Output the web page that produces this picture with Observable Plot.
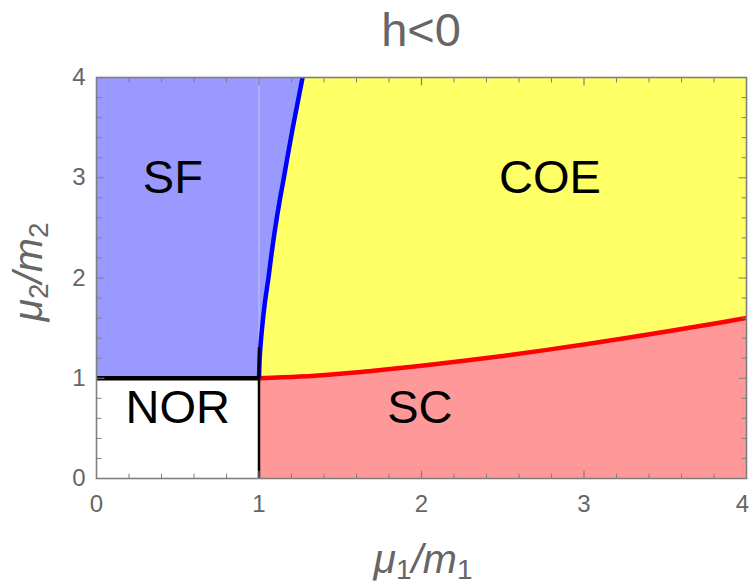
<!DOCTYPE html>
<html>
<head>
<meta charset="utf-8">
<script src="https://cdn.jsdelivr.net/npm/d3@7"></script>
<script src="https://cdn.jsdelivr.net/npm/@observablehq/plot@0.6"></script>
<style>
  html, body { margin: 0; padding: 0; background: #fff; }
  #chart svg { display: block; }
</style>
</head>
<body>
<div id="chart"></div>
<script>
// ---- data ----
const titleText = "h<0";
const xTickValues = [0, 1, 2, 3, 4];
const yTickValues = [0, 1, 2, 3, 4];
const minorStep = 0.2;

// blue boundary (SF | COE), read as x for each y
const blueY = [1, 1.25, 1.5, 1.75, 2, 2.25, 2.5, 2.75, 3, 3.25, 3.5, 3.75, 4];
const blueX = [1, 1.006, 1.019, 1.036, 1.058, 1.078, 1.10, 1.125, 1.153, 1.18, 1.208, 1.238, 1.268];

// red boundary (COE | SC), read as y for each x
const redX = [1, 1.25, 1.5, 1.75, 2, 2.25, 2.5, 2.75, 3, 3.25, 3.5, 3.75, 4];
const redY = [1, 1.017, 1.046, 1.083, 1.125, 1.172, 1.223, 1.278, 1.337, 1.399, 1.464, 1.531, 1.601];

// black boundaries
const norTopX = [0, 1];
const norTopY = [1, 1];
const norRightX = [1, 1];
const norRightY = [0, 1.31];

// phase labels
const phaseNames = ["SF", "COE", "NOR", "SC"];
const phaseX = [0.47, 2.79, 0.50, 1.99];
const phaseY = [3.0, 3.0, 0.70, 0.70];

// ---- derived tables ----
const blue = blueY.map((y, i) => ({x: blueX[i], y}));
const red = redX.map((x, i) => ({x, y: redY[i]}));
const norTop = norTopX.map((x, i) => ({x, y: norTopY[i]}));
const norRight = norRightX.map((x, i) => ({x, y: norRightY[i]}));
const phases = phaseNames.map((t, i) => ({t, x: phaseX[i], y: phaseY[i]}));

const minorTicks = d3.range(0, 4 + 1e-9, minorStep).map(v => +v.toFixed(3)).filter(v => !xTickValues.includes(v));

const frameColor = "#7f7f7f";
const textGray = "#666666";
const shapeUp = {draw(c, l) { c.moveTo(0, 0); c.lineTo(0, -l); }};
const shapeDown = {draw(c, l) { c.moveTo(0, 0); c.lineTo(0, l); }};
const shapeRight = {draw(c, l) { c.moveTo(0, 0); c.lineTo(l, 0); }};
const shapeLeft = {draw(c, l) { c.moveTo(0, 0); c.lineTo(-l, 0); }};

function ticks(values, len, width) {
  return [
    Plot.vector(values, {x: d => d, y: () => 0, length: len, anchor: "start", shape: shapeUp, stroke: frameColor, strokeWidth: width}),
    Plot.vector(values, {x: d => d, y: () => 4, length: len, anchor: "start", shape: shapeDown, stroke: frameColor, strokeWidth: width}),
    Plot.vector(values, {x: () => 0, y: d => d, length: len, anchor: "start", shape: shapeRight, stroke: frameColor, strokeWidth: width}),
    Plot.vector(values, {x: () => 4, y: d => d, length: len, anchor: "start", shape: shapeLeft, stroke: frameColor, strokeWidth: width})
  ];
}

const lineOpts = {strokeLinecap: "butt", strokeLinejoin: "round", clip: true};

const chart = Plot.plot({
  width: 751,
  height: 588,
  marginLeft: 96,
  marginRight: 5,
  marginTop: 77,
  marginBottom: 110,
  style: {fontFamily: "'Liberation Sans', Arial, sans-serif", background: "#fff"},
  x: {domain: [0, 4]},
  y: {domain: [0, 4]},
  marks: [
    // COE (yellow) base
    Plot.rect([0], {x1: () => 1, x2: () => 4, y1: () => 1, y2: () => 4, fill: "#ffff66"}),
    // SC (pink)
    Plot.areaY(red, {x: "x", y1: () => 0, y2: "y", fill: "#ff9999", curve: "catmull-rom"}),
    // SF (lavender)
    Plot.areaX(blue, {y: "y", x1: () => 0, x2: "x", fill: "#9999ff", curve: "catmull-rom"}),
    // faint line at x=1 in SF
    Plot.ruleX([1], {y1: 1, y2: 4, stroke: "#ffffff", strokeOpacity: 0.45, strokeWidth: 1}),
    // curves
    Plot.line(red, {x: "x", y: "y", stroke: "#ff0000", strokeWidth: 4.5, curve: "catmull-rom", ...lineOpts}),
    Plot.line(blue, {x: "x", y: "y", stroke: "#0000ff", strokeWidth: 4.5, curve: "catmull-rom", ...lineOpts}),
    Plot.line(norTop, {x: "x", y: "y", stroke: "#000", strokeWidth: 4.5, ...lineOpts}),
    Plot.line(norRight, {x: "x", y: "y", stroke: "#000", strokeWidth: 2.5, ...lineOpts}),
    // phase labels
    Plot.text(phases, {x: "x", y: "y", text: "t", fontSize: 47, fill: "#000"}),
    // frame + ticks
    ...ticks(xTickValues.filter(v => v > 0 && v < 4), 7.5, 1.2),
    ...ticks(minorTicks, 4.5, 1),
    Plot.frame({stroke: frameColor, strokeWidth: 1.6}),
    Plot.axisX(xTickValues.slice(0, -1), {anchor: "bottom", tickSize: 0, tickPadding: 16, fontSize: 24, color: textGray, label: null, tickFormat: d => String(d)}),
    Plot.axisX(xTickValues.slice(-1), {anchor: "bottom", tickSize: 0, tickPadding: 16, fontSize: 24, color: textGray, label: null, tickFormat: d => String(d), dx: -4}),
    Plot.axisY(yTickValues, {anchor: "left", tickSize: 0, tickPadding: 11, fontSize: 24, color: textGray, label: null, tickFormat: d => String(d)})
  ]
});

document.getElementById("chart").appendChild(chart);

// title and axis labels
const svg = d3.select(chart);
svg.append("text")
  .attr("x", 421).attr("y", 46)
  .attr("text-anchor", "middle")
  .attr("font-size", 47)
  .attr("fill", textGray)
  .text(titleText);

function mathLabel(g, sym, sub1, mid, sub2) {
  const t = g.append("text")
    .attr("text-anchor", "middle")
    .attr("font-size", 41)
    .attr("fill", textGray);
  t.append("tspan").attr("font-style", "italic").text(sym);
  t.append("tspan").attr("font-size", 28).attr("dy", 6).text(sub1);
  t.append("tspan").attr("font-style", "italic").attr("dy", -6).text(mid);
  t.append("tspan").attr("font-size", 28).attr("dy", 6).text(sub2);
}
mathLabel(svg.append("g").attr("transform", "translate(423,573)"), "μ", "1", "/m", "1");
mathLabel(svg.append("g").attr("transform", "translate(42,272) rotate(-90)"), "μ", "2", "/m", "2");
</script>
</body>
</html>
